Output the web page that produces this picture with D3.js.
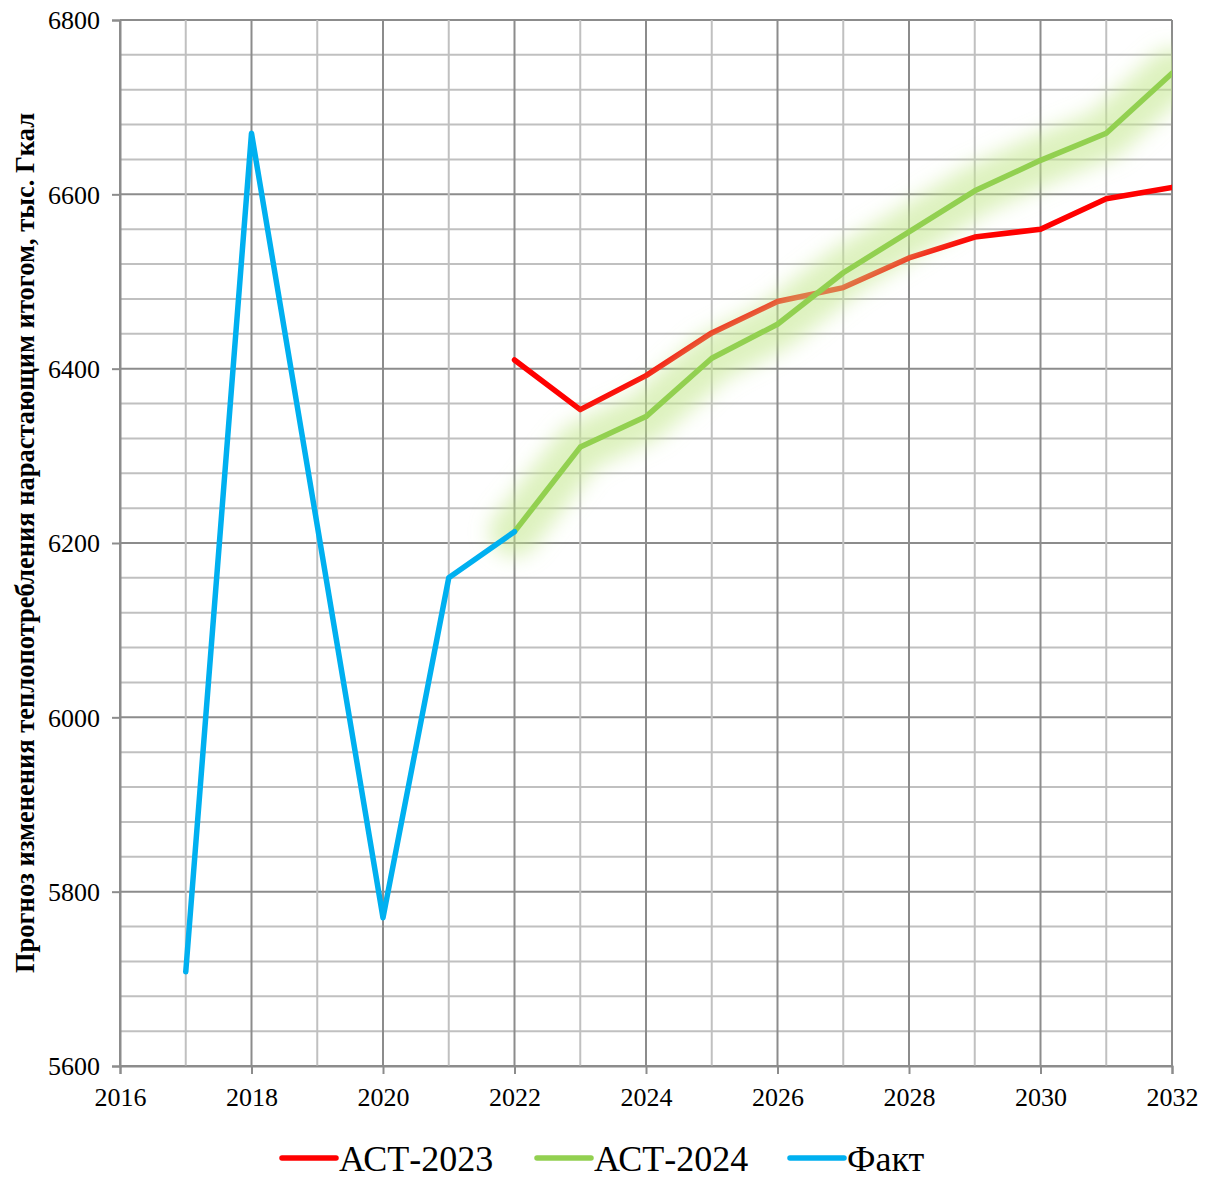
<!DOCTYPE html>
<html>
<head>
<meta charset="utf-8">
<script src="https://cdn.jsdelivr.net/npm/d3@7"></script>
<style>
  body { margin: 0; background: #fff; }
  text { font-family: "Liberation Serif", "Times New Roman", serif; fill: #000; }
</style>
</head>
<body>
<div id="chart"></div>
<script>
// data
var factYears = [2017, 2018, 2019, 2020, 2021, 2022];
var factValues = [5708, 6670, 6220, 5770, 6160, 6213];

var ast2023Years = [2022, 2023, 2024, 2025, 2026, 2027, 2028, 2029, 2030, 2031, 2032];
var ast2023Values = [6410, 6353, 6392, 6441, 6477, 6493, 6527, 6551, 6560, 6595, 6608];

var ast2024Years = [2022, 2023, 2024, 2025, 2026, 2027, 2028, 2029, 2030, 2031, 2032];
var ast2024Values = [6213, 6310, 6345, 6412, 6451, 6510, 6557, 6604, 6639, 6670, 6739];

var xTicks = [2016, 2018, 2020, 2022, 2024, 2026, 2028, 2030, 2032];
var yTicks = [5600, 5800, 6000, 6200, 6400, 6600, 6800];

var seriesNames = ["АСТ-2023", "АСТ-2024", "Факт"];
var seriesColors = ["#FF0000", "#92D050", "#00B0F0"];

var width = 1214, height = 1178;
var plotLeft = 120, plotRight = 1172, plotTop = 20, plotBottom = 1066;

var svg = d3.select("#chart").append("svg")
  .attr("width", width)
  .attr("height", height);

var x = d3.scaleLinear().domain([2016, 2032]).range([plotLeft, plotRight]);
var y = d3.scaleLinear().domain([5600, 6800]).range([plotBottom, plotTop]);

var defs = svg.append("defs");
defs.append("clipPath").attr("id", "plotClip")
  .append("rect")
  .attr("x", plotLeft).attr("y", plotTop)
  .attr("width", plotRight - plotLeft).attr("height", plotBottom - plotTop);
defs.append("filter").attr("id", "glow")
  .attr("x", "-20%").attr("y", "-20%").attr("width", "140%").attr("height", "140%")
  .append("feGaussianBlur").attr("stdDeviation", 10);

// grid
var grid = svg.append("g");
d3.range(5600, 6801, 40).forEach(function(v) {
  grid.append("line")
    .attr("x1", plotLeft).attr("x2", plotRight)
    .attr("y1", y(v)).attr("y2", y(v))
    .attr("stroke", v % 200 === 0 ? "#8C8C8C" : "#C0C0C0")
    .attr("stroke-width", 2);
});
d3.range(2016, 2033).forEach(function(yr) {
  grid.append("line")
    .attr("x1", x(yr)).attr("x2", x(yr))
    .attr("y1", plotTop).attr("y2", plotBottom)
    .attr("stroke", yr % 2 === 0 ? "#8C8C8C" : "#C0C0C0")
    .attr("stroke-width", 2);
});

// axes
var xAxis = svg.append("g")
  .attr("transform", `translate(0, ${plotBottom})`)
  .call(d3.axisBottom(x).tickValues(xTicks).tickFormat(d3.format("d")).tickSize(8).tickPadding(14));
var yAxis = svg.append("g")
  .attr("transform", `translate(${plotLeft}, 0)`)
  .call(d3.axisLeft(y).tickValues(yTicks).tickFormat(d3.format("d")).tickSize(8).tickPadding(12));

[xAxis, yAxis].forEach(function(a) {
  a.attr("font-family", "Liberation Serif").attr("font-size", 26);
  a.select(".domain").attr("stroke", "#8C8C8C").attr("stroke-width", 2);
  a.selectAll(".tick line").attr("stroke", "#8C8C8C").attr("stroke-width", 2);
  a.selectAll(".tick text").attr("fill", "#000");
});
yAxis.selectAll(".tick text").attr("dy", "0.34em");

// lines
var line = d3.line()
  .x(function(d) { return x(d[0]); })
  .y(function(d) { return y(d[1]); });

var plot = svg.append("g").attr("clip-path", "url(#plotClip)");

var redData = d3.zip(ast2023Years, ast2023Values);
var greenData = d3.zip(ast2024Years, ast2024Values);
var blueData = d3.zip(factYears, factValues);

plot.append("path")
  .datum(redData)
  .attr("d", line)
  .attr("fill", "none")
  .attr("stroke", seriesColors[0])
  .attr("stroke-width", 5.5)
  .attr("stroke-linejoin", "round")
  .attr("stroke-linecap", "round");

// soft glow under the АСТ-2024 line
plot.append("path")
  .datum(greenData)
  .attr("d", line)
  .attr("fill", "none")
  .attr("stroke", "#C2E78A")
  .attr("stroke-opacity", 0.55)
  .attr("stroke-width", 50)
  .attr("stroke-linejoin", "round")
  .attr("stroke-linecap", "round")
  .attr("filter", "url(#glow)");

plot.append("path")
  .datum(greenData)
  .attr("d", line)
  .attr("fill", "none")
  .attr("stroke", seriesColors[1])
  .attr("stroke-width", 5.5)
  .attr("stroke-linejoin", "round")
  .attr("stroke-linecap", "round");

svg.append("path")
  .datum(blueData)
  .attr("d", line)
  .attr("fill", "none")
  .attr("stroke", seriesColors[2])
  .attr("stroke-width", 5.5)
  .attr("stroke-linejoin", "round")
  .attr("stroke-linecap", "round");

// y axis title
svg.append("text")
  .attr("transform", "translate(34, 543) rotate(-90)")
  .attr("text-anchor", "middle")
  .style("font-size", "26.5px")
  .style("font-weight", "bold")
  .text("Прогноз изменения теплопотребления нарастающим итогом, тыс. Гкал");

// legend
var legendX = [282, 537, 790];
var legend = svg.append("g");
seriesNames.forEach(function(name, i) {
  legend.append("line")
    .attr("x1", legendX[i]).attr("x2", legendX[i] + 54)
    .attr("y1", 1158).attr("y2", 1158)
    .attr("stroke", seriesColors[i])
    .attr("stroke-width", 5.5)
    .attr("stroke-linecap", "round");
  legend.append("text")
    .attr("x", legendX[i] + 57)
    .attr("y", 1171)
    .style("font-size", "36px")
    .text(name);
});
</script>
</body>
</html>
